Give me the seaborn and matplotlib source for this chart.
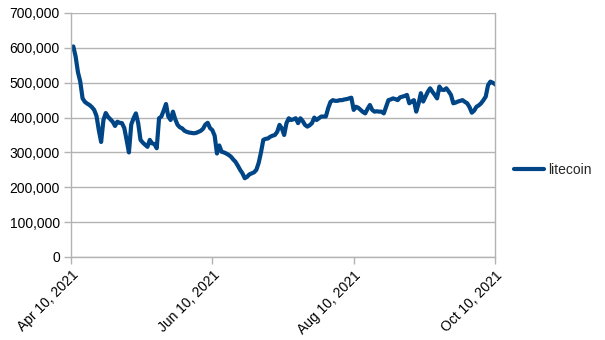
import matplotlib
matplotlib.use("Agg")
import matplotlib.pyplot as plt
import matplotlib.dates as mdates
from matplotlib.ticker import FuncFormatter, MultipleLocator
import numpy as np
import pandas as pd
import seaborn as sns

# Daily litecoin series, Apr 10 2021 .. Oct 10 2021
start_date = "2021-04-10"
end_date = "2021-10-10"
litecoin = [
    598000, 604000, 575000, 530000, 503000, 455000, 445000, 440000, 436000, 430000,
    422000, 405000, 364000, 330000, 393000, 413000, 402000, 395000, 388000, 376000,
    388000, 385000, 384000, 370000, 336000, 300000, 380000, 398000, 412000, 384000,
    336000, 328000, 322000, 316000, 336000, 326000, 324000, 312000, 398000, 403000,
    420000, 439000, 403000, 393000, 417000, 395000, 379000, 372000, 369000, 362000,
    359000, 357000, 356000, 355000, 356000, 359000, 362000, 368000, 380000, 385000,
    370000, 364000, 348000, 297000, 320000, 302000, 300000, 297000, 293000, 288000,
    280000, 273000, 262000, 250000, 240000, 226000, 230000, 237000, 240000, 243000,
    250000, 270000, 300000, 336000, 339000, 340000, 345000, 348000, 350000, 359000,
    379000, 369000, 350000, 384000, 398000, 393000, 395000, 398000, 384000, 398000,
    390000, 379000, 374000, 378000, 384000, 400000, 393000, 398000, 403000, 403000,
    403000, 427000, 445000, 450000, 448000, 448000, 450000, 450000, 452000, 453000,
    455000, 457000, 422000, 431000, 428000, 422000, 416000, 412000, 425000, 436000,
    422000, 417000, 418000, 417000, 417000, 412000, 431000, 450000, 452000, 455000,
    453000, 450000, 458000, 460000, 462000, 465000, 441000, 446000, 450000, 417000,
    440000, 470000, 446000, 460000, 474000, 484000, 474000, 465000, 455000, 489000,
    480000, 479000, 484000, 475000, 465000, 441000, 443000, 446000, 448000, 450000,
    445000, 441000, 430000, 414000, 420000, 431000, 435000, 441000, 450000, 460000,
    493000, 503000, 500000, 496000, 490000,
]
x_ticks = ["2021-04-10", "2021-06-10", "2021-08-10", "2021-10-10"]
y_ticks = [0, 100000, 200000, 300000, 400000, 500000, 600000, 700000]

dates = pd.date_range(start_date, periods=len(litecoin), freq="D")
df = pd.DataFrame({"date": dates, "litecoin": litecoin})

sns.set_theme(style="white")
plt.rcParams["font.family"] = ["Liberation Sans", "DejaVu Sans"]

line_color = "#004586"
grid_color = "#b3b3b3"

fig = plt.figure(figsize=(6.05, 3.4), dpi=100)
ax = fig.add_axes([71 / 605, 1 - 257 / 340, (495 - 71) / 605, (257 - 13) / 340])

sns.lineplot(data=df, x="date", y="litecoin", ax=ax, color=line_color,
             linewidth=3.0, label="litecoin")

ax.set_xlim(pd.Timestamp(start_date), pd.Timestamp(end_date))
ax.set_ylim(0, 700000)
ax.set_yticks(y_ticks)
ax.yaxis.set_major_formatter(FuncFormatter(lambda v, p: f"{v:,.0f}"))
ax.set_xticks([pd.Timestamp(t) for t in x_ticks])
ax.xaxis.set_major_formatter(mdates.DateFormatter("%b %d, %Y"))

ax.grid(axis="y", color=grid_color, linewidth=1.0)
ax.grid(axis="x", visible=False)
ax.set_axisbelow(True)
for side in ["left", "bottom", "right"]:
    ax.spines[side].set_visible(True)
    ax.spines[side].set_color(grid_color)
    ax.spines[side].set_linewidth(1.0)
ax.spines["top"].set_visible(False)

ax.tick_params(axis="both", which="major", length=5, width=1.0, color=grid_color,
               labelsize=10, labelcolor="black", direction="out",
               left=True, bottom=True)
ax.tick_params(axis="y", pad=3)
ax.tick_params(axis="x", pad=3)
for lbl in ax.get_xticklabels():
    lbl.set_rotation(45)
    lbl.set_ha("right")
    lbl.set_va("top")
    lbl.set_rotation_mode("anchor")

ax.set_xlabel("")
ax.set_ylabel("")

leg = ax.legend(loc="center left", bbox_to_anchor=(508 / 605, 0.5),
                bbox_transform=fig.transFigure, frameon=False, fontsize=10,
                handlelength=2.2, handletextpad=0.3, borderaxespad=0)

fig.savefig("out.png", dpi=100, facecolor="white")
